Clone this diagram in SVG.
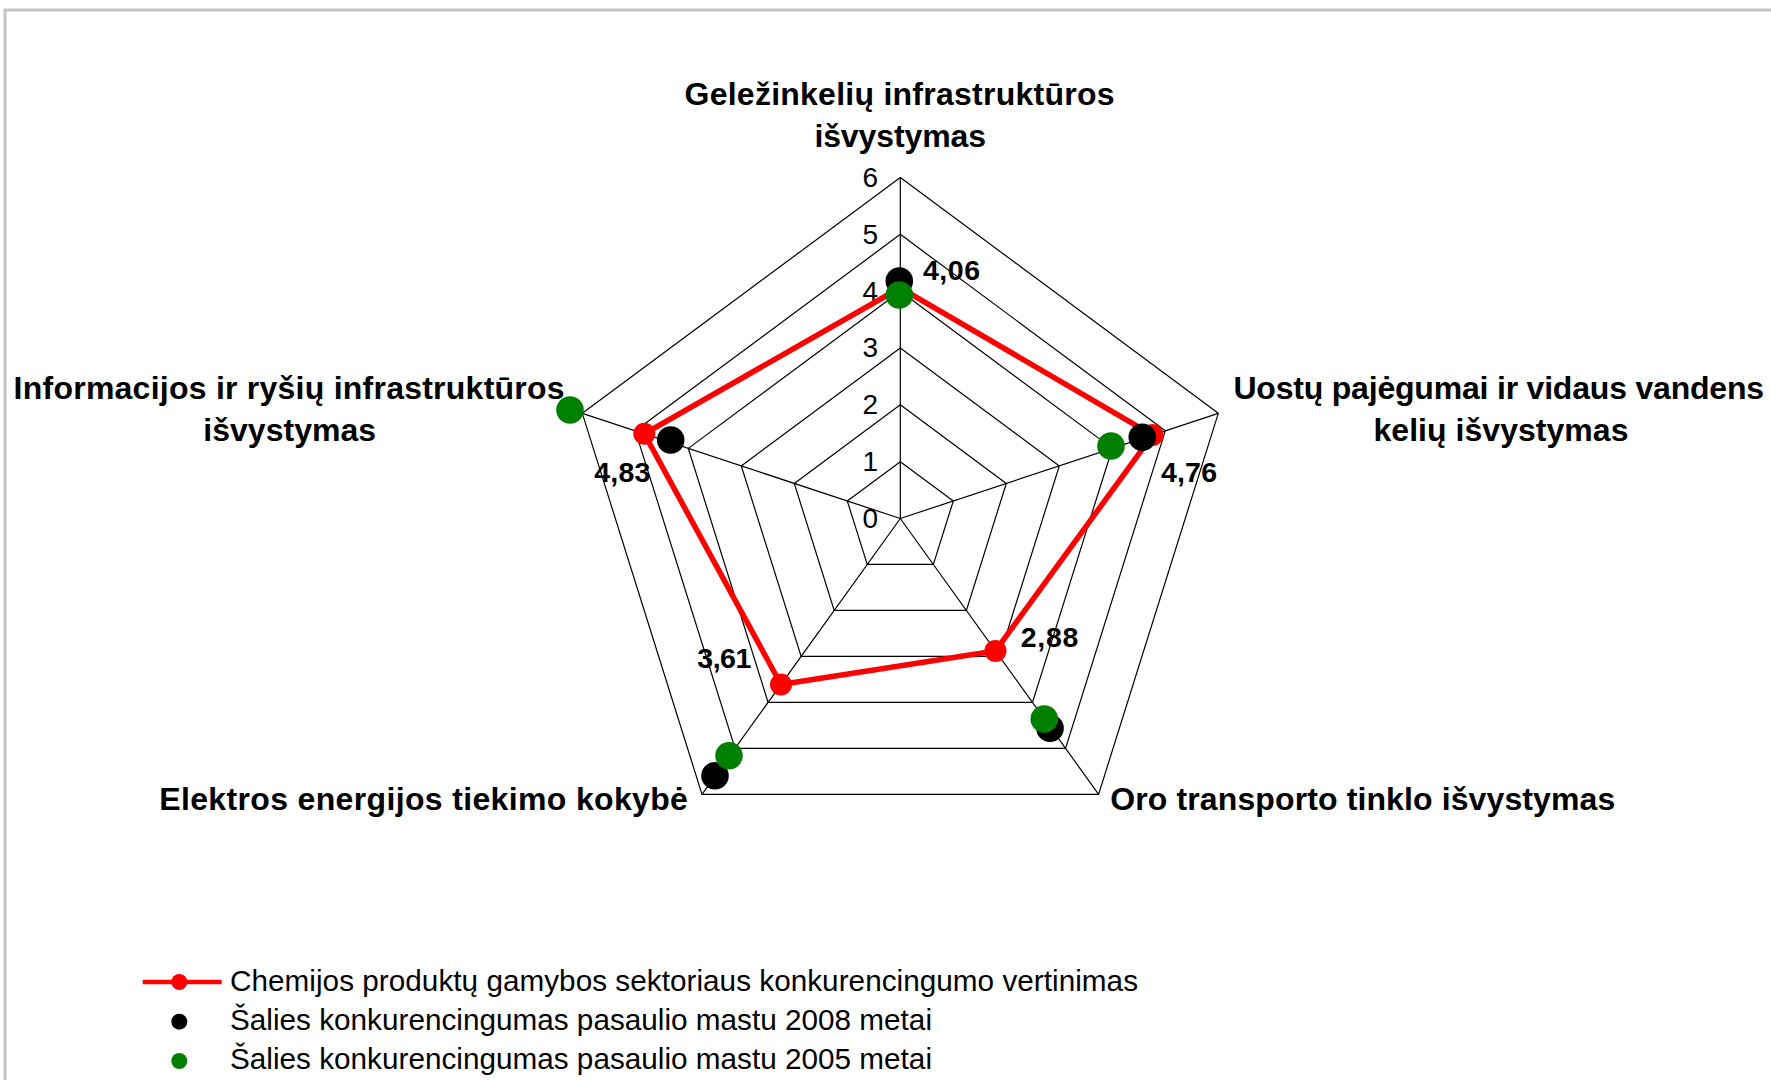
<svg xmlns="http://www.w3.org/2000/svg" width="1771" height="1080" viewBox="0 0 1771 1080">
<style>
.grid{fill:none;stroke:#000;stroke-width:1.2}
.ax{font-family:"Liberation Sans",Arial,sans-serif;font-size:28px;fill:#000;text-anchor:end}
.cat{font-family:"Liberation Sans",Arial,sans-serif;font-size:32px;font-weight:bold;fill:#000}
.val{font-family:"Liberation Sans",Arial,sans-serif;font-size:28.5px;font-weight:bold;fill:#000}
.leg{font-family:"Liberation Sans",Arial,sans-serif;font-size:29.7px;fill:#000}
.red{fill:#ff0000}
.blk{fill:#000}
.grn{fill:#008000}
</style>
<rect x="0" y="0" width="1771" height="1080" fill="#fff"/>
<path d="M5,1080 V10 H1771" fill="none" stroke="#c4c4c4" stroke-width="3"/>

<g id="grid">
<polygon class="grid" points="900.3,461.67 953.3,500.97 933.35,564.47 867.25,564.47 847.3,500.97"/>
<polygon class="grid" points="900.3,404.84 1006.3,483.44 966.4,610.44 834.2,610.44 794.3,483.44"/>
<polygon class="grid" points="900.3,348.01 1059.3,465.91 999.45,656.41 801.15,656.41 741.3,465.91"/>
<polygon class="grid" points="900.3,291.18 1112.3,448.38 1032.5,702.38 768.1,702.38 688.3,448.38"/>
<polygon class="grid" points="900.3,234.35 1165.3,430.85 1065.55,748.35 735.05,748.35 635.3,430.85"/>
<polygon class="grid" points="900.3,177.52 1218.3,413.32 1098.6,794.32 702,794.32 582.3,413.32"/>
<path class="grid" d="M900.3,518.5 L900.3,177.52 M900.3,518.5 L1218.3,413.32 M900.3,518.5 L1098.6,794.32 M900.3,518.5 L702,794.32 M900.3,518.5 L582.3,413.32"/>
</g>

<g id="axis-labels">
<text class="ax" x="878" y="527.8">0</text>
<text class="ax" x="878" y="471">1</text>
<text class="ax" x="878" y="414.1">2</text>
<text class="ax" x="878" y="357.3">3</text>
<text class="ax" x="878" y="300.5">4</text>
<text class="ax" x="878" y="243.6">5</text>
<text class="ax" x="878" y="186.8">6</text>
</g>

<g id="categories">
<text class="cat" x="684.5" y="105" textLength="430" lengthAdjust="spacing">Geležinkelių infrastruktūros</text>
<text class="cat" x="814.4" y="147" textLength="171.6" lengthAdjust="spacing">išvystymas</text>
<text class="cat" x="1233.4" y="399" textLength="530.7" lengthAdjust="spacing">Uostų pajėgumai ir vidaus vandens</text>
<text class="cat" x="1373.5" y="440.5" textLength="255" lengthAdjust="spacing">kelių išvystymas</text>
<text class="cat" x="13.6" y="399" textLength="551" lengthAdjust="spacing">Informacijos ir ryšių infrastruktūros</text>
<text class="cat" x="203.3" y="440.5" textLength="172.8" lengthAdjust="spacing">išvystymas</text>
<text class="cat" x="159.3" y="809.5" textLength="528.6" lengthAdjust="spacing">Elektros energijos tiekimo kokybė</text>
<text class="cat" x="1110.3" y="809.5" textLength="505" lengthAdjust="spacing">Oro transporto tinklo išvystymas</text>
</g>

<g id="series-chemijos">
<polygon points="900.3,287.77 1152.58,435.06 995.48,650.89 780.99,684.45 644.31,433.83" fill="none" stroke="#ff0000" stroke-width="5.5" stroke-linejoin="miter"/>
<circle class="red" cx="900.3" cy="287.77" r="11"/>
<circle class="red" cx="1152.58" cy="435.06" r="11"/>
<circle class="red" cx="995.48" cy="650.89" r="11"/>
<circle class="red" cx="780.99" cy="684.45" r="11"/>
<circle class="red" cx="644.31" cy="433.83" r="11"/>
</g>

<g id="series-2008">
<circle class="blk" cx="899.3" cy="281" r="13.8"/>
<circle class="blk" cx="1142.3" cy="437.3" r="13.8"/>
<circle class="blk" cx="1050" cy="728.3" r="13.8"/>
<circle class="blk" cx="715" cy="775.7" r="13.8"/>
<circle class="blk" cx="670.7" cy="440" r="13.8"/>
</g>

<g id="series-2005">
<circle class="grn" cx="899.3" cy="295" r="13.8"/>
<circle class="grn" cx="1111" cy="446" r="13.8"/>
<circle class="grn" cx="1044.3" cy="719" r="13.8"/>
<circle class="grn" cx="729" cy="755.7" r="13.8"/>
<circle class="grn" cx="570" cy="410" r="13.8"/>
</g>

<g id="value-labels">
<text class="val" x="923" y="280" textLength="57" lengthAdjust="spacing">4,06</text>
<text class="val" x="1161" y="481.7" textLength="56" lengthAdjust="spacing">4,76</text>
<text class="val" x="594.3" y="481.7" textLength="56" lengthAdjust="spacing">4,83</text>
<text class="val" x="697.3" y="668.3" textLength="54" lengthAdjust="spacing">3,61</text>
<text class="val" x="1020.7" y="646.7" textLength="57.6" lengthAdjust="spacing">2,88</text>
</g>

<g id="legend">
<line x1="142.7" y1="982" x2="221.7" y2="982" stroke="#ff0000" stroke-width="4.5"/>
<circle class="red" cx="179.3" cy="982" r="8"/>
<circle class="blk" cx="179.3" cy="1021.7" r="8"/>
<circle class="grn" cx="179.3" cy="1061" r="8"/>
<text class="leg" x="230" y="991" textLength="908" lengthAdjust="spacing">Chemijos produktų gamybos sektoriaus konkurencingumo vertinimas</text>
<text class="leg" x="230" y="1030" textLength="702" lengthAdjust="spacing">Šalies konkurencingumas pasaulio mastu 2008 metai</text>
<text class="leg" x="230" y="1068.5" textLength="702" lengthAdjust="spacing">Šalies konkurencingumas pasaulio mastu 2005 metai</text>
</g>
</svg>
